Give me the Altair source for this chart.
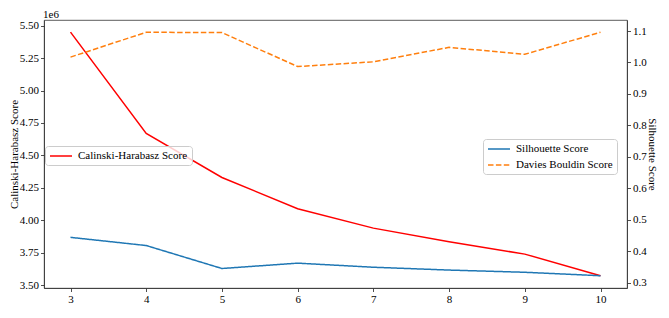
import altair as alt
import pandas as pd

# ---- data ----
k = [3, 4, 5, 6, 7, 8, 9, 10]
calinski = [5.45e6, 4.67e6, 4.33e6, 4.09e6, 3.94e6, 3.835e6, 3.74e6, 3.573e6]
silhouette = [0.444, 0.418, 0.345, 0.362, 0.349, 0.340, 0.333, 0.322]
davies = [1.017, 1.096, 1.095, 0.987, 1.002, 1.048, 1.026, 1.096]

left_ticks = [3.5e6, 3.75e6, 4.0e6, 4.25e6, 4.5e6, 4.75e6, 5.0e6, 5.25e6, 5.5e6]
right_ticks = [0.3, 0.4, 0.5, 0.6, 0.7, 0.8, 0.9, 1.0, 1.1]

name_ch = "Calinski-Harabasz Score"
name_sil = "Silhouette Score"
name_db = "Davies Bouldin Score"

FONT = "Liberation Serif, Times New Roman, DejaVu Serif, serif"

df_left = pd.DataFrame({"k": k, "value": calinski, "series": [name_ch] * len(k)})
df_right = pd.DataFrame({
    "k": k + k,
    "value": silhouette + davies,
    "series": [name_sil] * len(k) + [name_db] * len(k),
})

x_enc = alt.X("k:Q", scale=alt.Scale(domain=[2.65, 10.35], nice=False, zero=False),
              axis=alt.Axis(values=k, format="d", title=None, labelPadding=2))

legend_common = dict(
    orient="none", title=None, fillColor="rgba(255,255,255,0.8)",
    strokeColor="#cccccc", cornerRadius=3, padding=4, rowPadding=5,
    symbolType="M-2.2,0H2.2", symbolSize=100, symbolStrokeWidth=1.5,
    symbolOffset=6,
    labelFont=FONT, labelFontSize=11, labelColor="black", labelOffset=11,
)

left = alt.Chart(df_left).mark_line(strokeWidth=1.5).encode(
    x=x_enc,
    y=alt.Y("value:Q",
            scale=alt.Scale(domain=[3.479e6, 5.543e6], nice=False, zero=False),
            axis=alt.Axis(orient="left", values=left_ticks, title=name_ch,
                          labelExpr="format(datum.value / 1e6, '.2f')",
                          labelPadding=2, titlePadding=0)),
    color=alt.Color("series:N",
                    scale=alt.Scale(domain=[name_ch], range=["#ff0000"]),
                    legend=alt.Legend(legendX=1, legendY=126, **legend_common)),
)

right_legend = alt.Legend(legendX=439, legendY=119, **legend_common)
right = alt.Chart(df_right).mark_line(strokeWidth=1.5).encode(
    x=x_enc,
    y=alt.Y("value:Q",
            scale=alt.Scale(domain=[0.283, 1.135], nice=False, zero=False),
            axis=alt.Axis(orient="right", values=right_ticks, format=".1f",
                          title=name_sil, labelPadding=2, titlePadding=0)),
    color=alt.Color("series:N",
                    scale=alt.Scale(domain=[name_sil, name_db],
                                    range=["#1f77b4", "#ff7f0e"]),
                    legend=right_legend),
    strokeDash=alt.StrokeDash("series:N",
                              scale=alt.Scale(domain=[name_sil, name_db],
                                              range=[[1, 0], [5.5, 2.4]]),
                              legend=right_legend),
)

offset_text = alt.Chart(pd.DataFrame({"t": ["1e6"]})).mark_text(
    align="left", baseline="alphabetic", font=FONT, fontSize=11, color="black"
).encode(x=alt.value(-1), y=alt.value(-2), text="t:N")

chart = alt.layer(left, right, offset_text).resolve_scale(
    y="independent", color="independent", strokeDash="independent"
).resolve_legend(
    color="independent", strokeDash="independent"
).properties(
    width=583, height=268,
    autosize=alt.AutoSizeParams(type="none"),
    padding={"left": 36, "top": 12, "right": 34, "bottom": 18},
).configure_axis(
    labelFont=FONT, titleFont=FONT, labelFontSize=11, titleFontSize=11,
    titleFontWeight="normal", labelColor="black", titleColor="black",
    tickColor="#222222", domainColor="#333333", tickSize=3.5, tickWidth=0.8,
    domainWidth=0.8, grid=False,
).configure_view(stroke="#333333", strokeWidth=0.8)

chart.save("out.html", embed_options={"renderer": "svg", "actions": False})
